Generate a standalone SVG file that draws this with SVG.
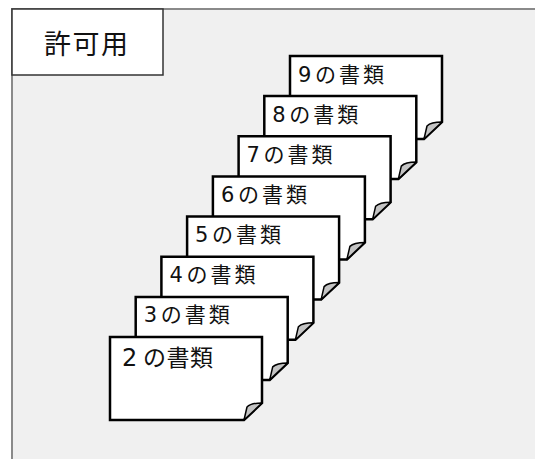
<svg xmlns="http://www.w3.org/2000/svg" width="535" height="459" viewBox="0 0 535 459">
<style>
.frame{fill:#f0f0f0;stroke:#8a8a8a;stroke-width:2}
.label{fill:#fff;stroke:#333;stroke-width:1.5}
.page{fill:#fff;stroke:#000;stroke-width:2.5;stroke-linejoin:miter}
.flap{fill:#c4c4c4;stroke:#000;stroke-width:1.5;stroke-linejoin:round}
.t{font-family:"Noto Sans CJK JP","Noto Sans",sans-serif;fill:#111}
.dt{font-size:21px}
.dg{font-size:21px;font-family:"DejaVu Sans",sans-serif}
.jp{letter-spacing:3px}
.big{font-size:23px}
.bigd{font-size:24px;font-family:"DejaVu Sans",sans-serif}
.bigjp{letter-spacing:0.5px}
</style>
<defs>
<g id="doc">
<path class="page" d="M0,0 H152 V66 L134,83 H0 Z"/>
<path class="flap" d="M152,66 Q141,66 137,70 L134,83 Z"/>
</g>
</defs>
<rect class="frame" x="12" y="9" width="600" height="600"/>
<g id="label">
<rect class="label" x="12" y="9" width="151" height="66"/>
<text class="t" x="44" y="54" font-size="27" textLength="84" lengthAdjust="spacing">許可用</text>
</g>
<g id="connectors"></g>
<g id="doc9" transform="translate(290,56)"><use href="#doc"/><text class="t dt" y="25.5"><tspan class="dg" x="8">9</tspan><tspan class="jp" x="25">の書類</tspan></text></g>
<g id="doc8" transform="translate(264.3,96.1)"><use href="#doc"/><text class="t dt" y="25.5"><tspan class="dg" x="8">8</tspan><tspan class="jp" x="25">の書類</tspan></text></g>
<g id="doc7" transform="translate(238.6,136.3)"><use href="#doc"/><text class="t dt" y="25.5"><tspan class="dg" x="8">7</tspan><tspan class="jp" x="25">の書類</tspan></text></g>
<g id="doc6" transform="translate(212.9,176.4)"><use href="#doc"/><text class="t dt" y="25.5"><tspan class="dg" x="8">6</tspan><tspan class="jp" x="25">の書類</tspan></text></g>
<g id="doc5" transform="translate(187.1,216.6)"><use href="#doc"/><text class="t dt" y="25.5"><tspan class="dg" x="8">5</tspan><tspan class="jp" x="25">の書類</tspan></text></g>
<g id="doc4" transform="translate(161.4,256.7)"><use href="#doc"/><text class="t dt" y="25.5"><tspan class="dg" x="8">4</tspan><tspan class="jp" x="25">の書類</tspan></text></g>
<g id="doc3" transform="translate(135.7,296.9)"><use href="#doc"/><text class="t dt" y="25.5"><tspan class="dg" x="8">3</tspan><tspan class="jp" x="25">の書類</tspan></text></g>
<g id="doc2" transform="translate(110,337)"><use href="#doc"/><text class="t big" y="29"><tspan class="bigd" x="12">2</tspan><tspan class="bigjp" x="33">の書類</tspan></text></g>
</svg>
